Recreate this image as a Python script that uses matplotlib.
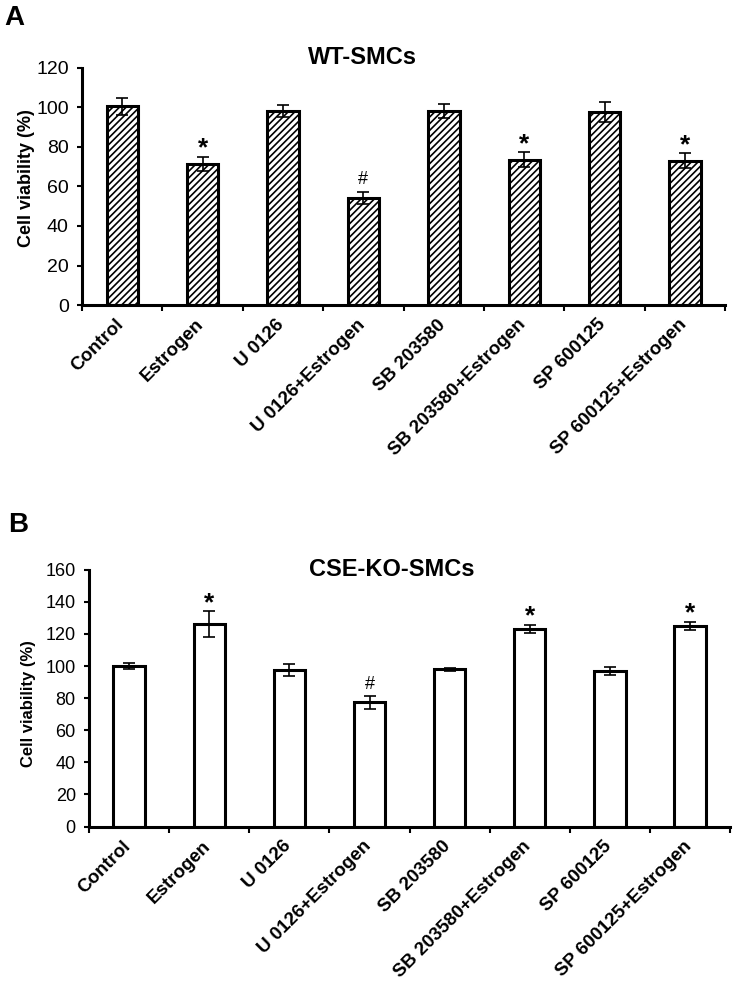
import matplotlib
matplotlib.use("Agg")
import matplotlib.pyplot as plt
import numpy as np

plt.rcParams['font.family'] = ['Liberation Sans', 'DejaVu Sans']
plt.rcParams['hatch.linewidth'] = 1.2

groups = ["Control", "Estrogen", "U 0126", "U 0126+Estrogen", "SB 203580",
          "SB 203580+Estrogen", "SP 600125", "SP 600125+Estrogen"]

wt_mean = [100.5, 71.5, 98.0, 54.0, 98.0, 73.5, 97.5, 73.0]
wt_err = [4.5, 3.5, 3.0, 3.0, 3.5, 3.7, 5.0, 3.8]
wt_marks = ["", "*", "", "#", "", "*", "", "*"]

ko_mean = [100.0, 126.0, 97.5, 77.5, 98.0, 123.0, 97.0, 125.0]
ko_err = [2.0, 8.0, 4.0, 4.0, 1.0, 2.5, 2.5, 2.5]
ko_marks = ["", "*", "", "#", "", "*", "", "*"]

fig = plt.figure(figsize=(7.36, 9.84), dpi=100)
ax_a = fig.add_axes([0.1114, 0.690, 0.874, 0.241])
ax_b = fig.add_axes([0.121, 0.160, 0.871, 0.261])

LABEL_NUDGE = 0.09  # rotated labels sit a bit left of the bar centre


def draw_panel(ax, means, errs, marks, hatch, ymax, ylab_size, tick_size,
               hash_off, ylab_pos):
    x = np.arange(len(groups))
    ax.bar(x, means, width=0.39, color='white', edgecolor='black',
           linewidth=2.2, hatch=hatch, zorder=2)
    ax.errorbar(x, means, yerr=errs, fmt='none', ecolor='black',
                elinewidth=1.2, capsize=4.5, capthick=1.2, zorder=3)
    for i, m in enumerate(marks):
        if m == "*":
            ax.annotate(m, xy=(i, means[i] + errs[i]), xytext=(0, 1),
                        textcoords='offset points', ha='center', va='baseline',
                        fontsize=19, fontweight='bold')
        elif m == "#":
            ax.annotate(m, xy=(i, means[i] + errs[i]), xytext=(0, hash_off),
                        textcoords='offset points', ha='center', va='baseline',
                        fontsize=13)
    ax.set_xlim(-0.5, len(groups) - 0.5)
    ax.set_ylim(0, ymax)
    ax.set_yticks(np.arange(0, ymax + 1, 20))
    ax.set_xticks(x - LABEL_NUDGE)
    ax.set_xticks(np.arange(-0.5, len(groups), 1.0), minor=True)
    ax.set_xticklabels(groups, rotation=45, ha='right', va='top',
                       rotation_mode='anchor', fontsize=13.5, fontweight='bold')
    ax.tick_params(axis='x', which='major', length=0, pad=8)
    ax.tick_params(axis='x', which='minor', length=4, width=1.5, direction='out')
    ax.tick_params(axis='y', length=3.5, width=1.5, direction='out', pad=6)
    for lab in ax.get_yticklabels():
        lab.set_fontsize(tick_size)
    for s in ['top', 'right']:
        ax.spines[s].set_visible(False)
    for s in ['left', 'bottom']:
        ax.spines[s].set_linewidth(2.2)
    ax.set_ylabel("Cell viability (%)", fontsize=ylab_size, fontweight='bold',
                  va='center')
    ax.yaxis.set_label_coords(*ylab_pos)


draw_panel(ax_a, wt_mean, wt_err, wt_marks, '/////', 120, 13, 14, 6,
           (-0.087, 0.536))
draw_panel(ax_b, ko_mean, ko_err, ko_marks, None, 160, 12, 13, 5,
           (-0.095, 0.48))

fig.text(362 / 736, 1 - 57 / 984, "WT-SMCs", ha='center', va='center',
         fontsize=17, fontweight='bold')
fig.text(392 / 736, 1 - 570 / 984, "CSE-KO-SMCs", ha='center', va='center',
         fontsize=17, fontweight='bold')
fig.text(14 / 736, 1 - 18 / 984, "A", ha='center', va='center',
         fontsize=20, fontweight='bold')
fig.text(18 / 736, 1 - 525 / 984, "B", ha='center', va='center',
         fontsize=20, fontweight='bold')

fig.savefig("out.png", dpi=100)
